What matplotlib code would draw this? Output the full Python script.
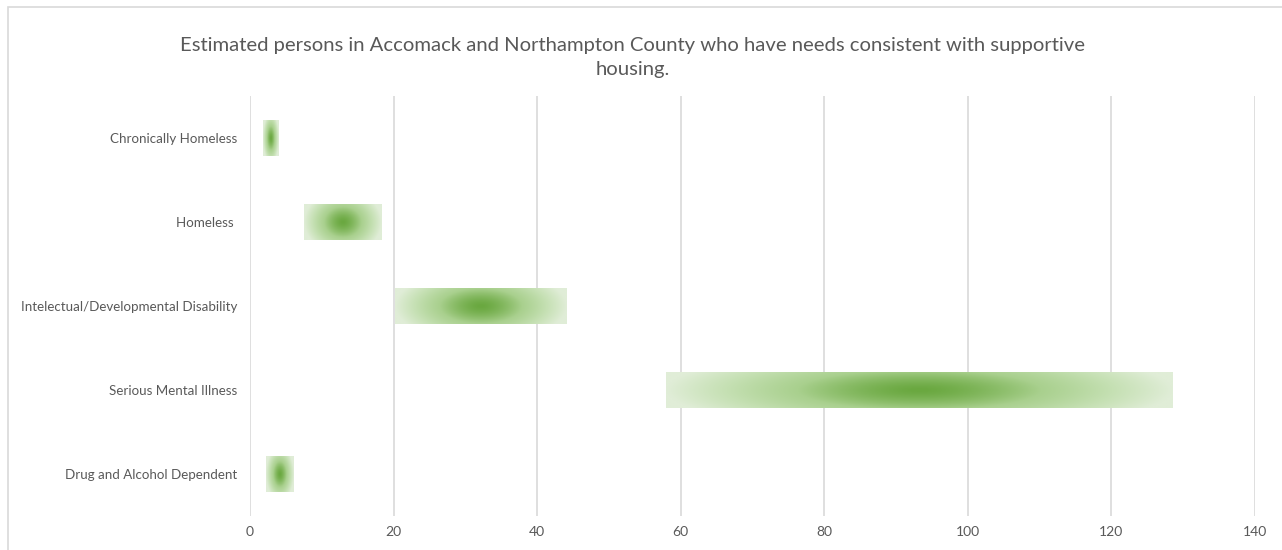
import numpy as np
import matplotlib.pyplot as plt
from matplotlib.colors import LinearSegmentedColormap
from matplotlib.patches import Rectangle

# estimated range (low, high) of persons per need category
categories = ['Chronically Homeless', 'Homeless ', 'Intelectual/Developmental Disability',
              'Serious Mental Illness', 'Drug and Alcohol Dependent']
low = [1.8, 7.5, 20.2, 57.9, 2.2]
high = [3.9, 18.3, 44.1, 128.5, 6.1]
x_ticks = [0, 20, 40, 60, 80, 100, 120, 140]

title = ('Estimated persons in Accomack and Northampton County who have needs consistent with supportive\n'
         'housing.')

plt.rcParams['font.family'] = ['Lato', 'DejaVu Sans']
text_grey = '#595959'

# light-to-dark green used for the centre-out gradient fill
greens = LinearSegmentedColormap.from_list('greens', ['#e0edd7', '#c5e0b3', '#a9d08e', '#6aa840'])

fig = plt.figure(figsize=(12.82, 5.5), dpi=100)
fig.patches.append(Rectangle((8 / 1282, -0.1), 1.2, 1 - 7 / 550 + 0.1, transform=fig.transFigure,
                             facecolor='none', edgecolor='#d9d9d9', lw=1.2, zorder=0))
ax = fig.add_axes([250 / 1282, 1 - 516 / 550, 1005 / 1282, 420 / 550])

bar_h = 0.42
px_per_unit = 1005 / 140
bar_px = bar_h * 84
nx, ny = 400, 60
gx = np.linspace(-1, 1, nx)
gy = np.linspace(-1, 1, ny)
X, Y = np.meshgrid(gx, gy)

for i, (lo, hi) in enumerate(zip(low, high)):
    # squat bars fade mostly sideways, narrow ones fade round the centre
    w_px = (hi - lo) * px_per_unit
    yw = 0.15 + 0.5 * bar_px / (bar_px + w_px)
    dist = np.clip(np.sqrt(X ** 2 + yw * Y ** 2), 0, 1)
    shade = 1 - dist ** 1.5
    ax.imshow(shade, cmap=greens, vmin=0, vmax=1, aspect='auto', interpolation='bilinear',
              extent=(lo, hi, i - bar_h / 2, i + bar_h / 2), zorder=3)

ax.set_xlim(0, 140)
ax.set_ylim(len(categories) - 0.5, -0.5)
ax.set_xticks(x_ticks)
ax.set_yticks(range(len(categories)))
ax.set_yticklabels(categories)
ax.grid(axis='x', color='#d9d9d9', lw=1.2, zorder=0)
ax.set_axisbelow(True)
for s in ax.spines.values():
    s.set_visible(False)
ax.tick_params(length=0, colors=text_grey, labelsize=9.6)
ax.tick_params(axis='x', pad=7, labelsize=10)
ax.tick_params(axis='y', pad=9)

fig.text(633 / 1282, 1 - 57 / 550, title, ha='center', va='center', fontsize=14.6,
         color=text_grey, linespacing=1.5)

fig.savefig('out.png', dpi=100)
